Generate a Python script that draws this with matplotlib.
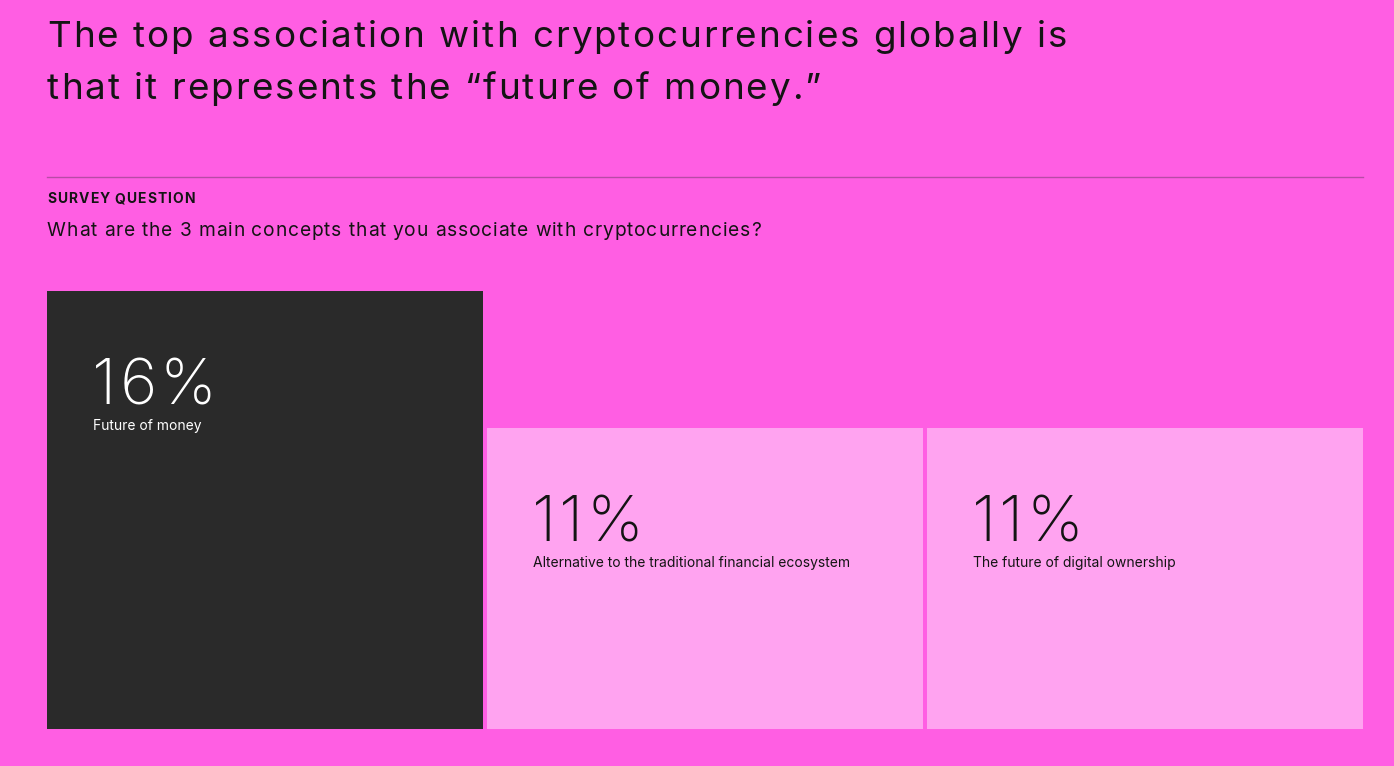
import matplotlib
matplotlib.use("Agg")
import matplotlib.pyplot as plt
from matplotlib.font_manager import FontProperties, findfont, get_font

# data
concepts = ["Future of money",
            "Alternative to the traditional financial ecosystem",
            "The future of digital ownership"]
shares = [16, 11, 11]
pct_labels = ["16%", "11%", "11%"]

title_lines = ["The top association with cryptocurrencies globally is",
               "that it represents the \u201cfuture of money.\u201d"]
kicker = "SURVEY QUESTION"
question = "What are the 3 main concepts that you associate with cryptocurrencies?"

BG = "#FF5EE3"
DARK = "#2A2A2A"
LIGHT = "#FFA3F0"
INK = "#141414"
W, H = 1394, 766
FAMILY = "Inter"

plt.rcParams["font.family"] = [FAMILY, "DejaVu Sans"]

fig = plt.figure(figsize=(W / 100, H / 100), dpi=100, facecolor=BG)


def fx(px):
    return px / W


def fy(py):
    return 1 - py / H


def advances_px(s, size, weight="normal"):
    # per-glyph advance widths in pixels (dpi 100)
    font = get_font(findfont(FontProperties(family=FAMILY, weight=weight)))
    font.set_size(size, 72)
    return [font.load_char(ord(c)).linearHoriAdvance / 65536 * 100 / 72 for c in s]


def tracked(put, s, size, track, weight="normal"):
    # draw s one glyph at a time with extra letter spacing (px)
    x = 0.0
    for ch, adv in zip(s, advances_px(s, size, weight)):
        if ch != " ":
            put(x, ch)
        x += adv + track


def fig_tracked(x0, y0, s, size, track, weight="normal", color=INK):
    tracked(lambda dx, ch: fig.text(fx(x0 + dx), fy(y0), ch, fontsize=size,
                                    fontweight=weight, color=color,
                                    va="baseline", ha="left"),
            s, size, track, weight)


# headline + survey block
fig_tracked(47, 47, title_lines[0], 26.5, 2.0)
fig_tracked(47, 99, title_lines[1], 26.5, 2.0)
fig.add_artist(plt.Line2D([fx(47), fx(1363)], [fy(176.5), fy(176.5)],
                          color="#B84BA6", lw=1))
fig_tracked(47, 203, kicker, 10, 1.0, weight="bold")
fig_tracked(47, 235.5, question, 13.8, 0.85)

# bars area: top of tallest bar at y=291, bottom at 729
ax = fig.add_axes([fx(47), fy(729), fx(1363) - fx(47), (729 - 291) / H])
ax.set_facecolor(BG)
for s in ax.spines.values():
    s.set_visible(False)
ax.set_xticks([])
ax.set_yticks([])

slot = (1363 - 47) / 3
width = 1 - 4 / slot
xs = list(range(len(shares)))
colors = [DARK, LIGHT, LIGHT]
ax.bar(xs, shares, width=width, align="edge", color=colors, linewidth=0)
ax.set_xlim(0, xs[-1] + width)
ax.set_ylim(0, max(shares))

for x, v, p, c, col in zip(xs, shares, pct_labels, concepts, colors):
    tc = "white" if col == DARK else INK

    def put_num(dx, ch, x=x, v=v, tc=tc):
        ax.annotate(ch, xy=(x, v), xytext=((45 + dx) * 0.72, -113.5 * 0.72),
                    textcoords="offset points", fontsize=46, fontweight="light",
                    color=tc, va="baseline", ha="left")

    tracked(put_num, p, 46, 3.0, weight="light")
    ax.annotate(c, xy=(x, v), xytext=(46 * 0.72, -138.7 * 0.72),
                textcoords="offset points", fontsize=10.0,
                color=tc, va="baseline", ha="left")

fig.savefig("out.png", dpi=100, facecolor=BG)
